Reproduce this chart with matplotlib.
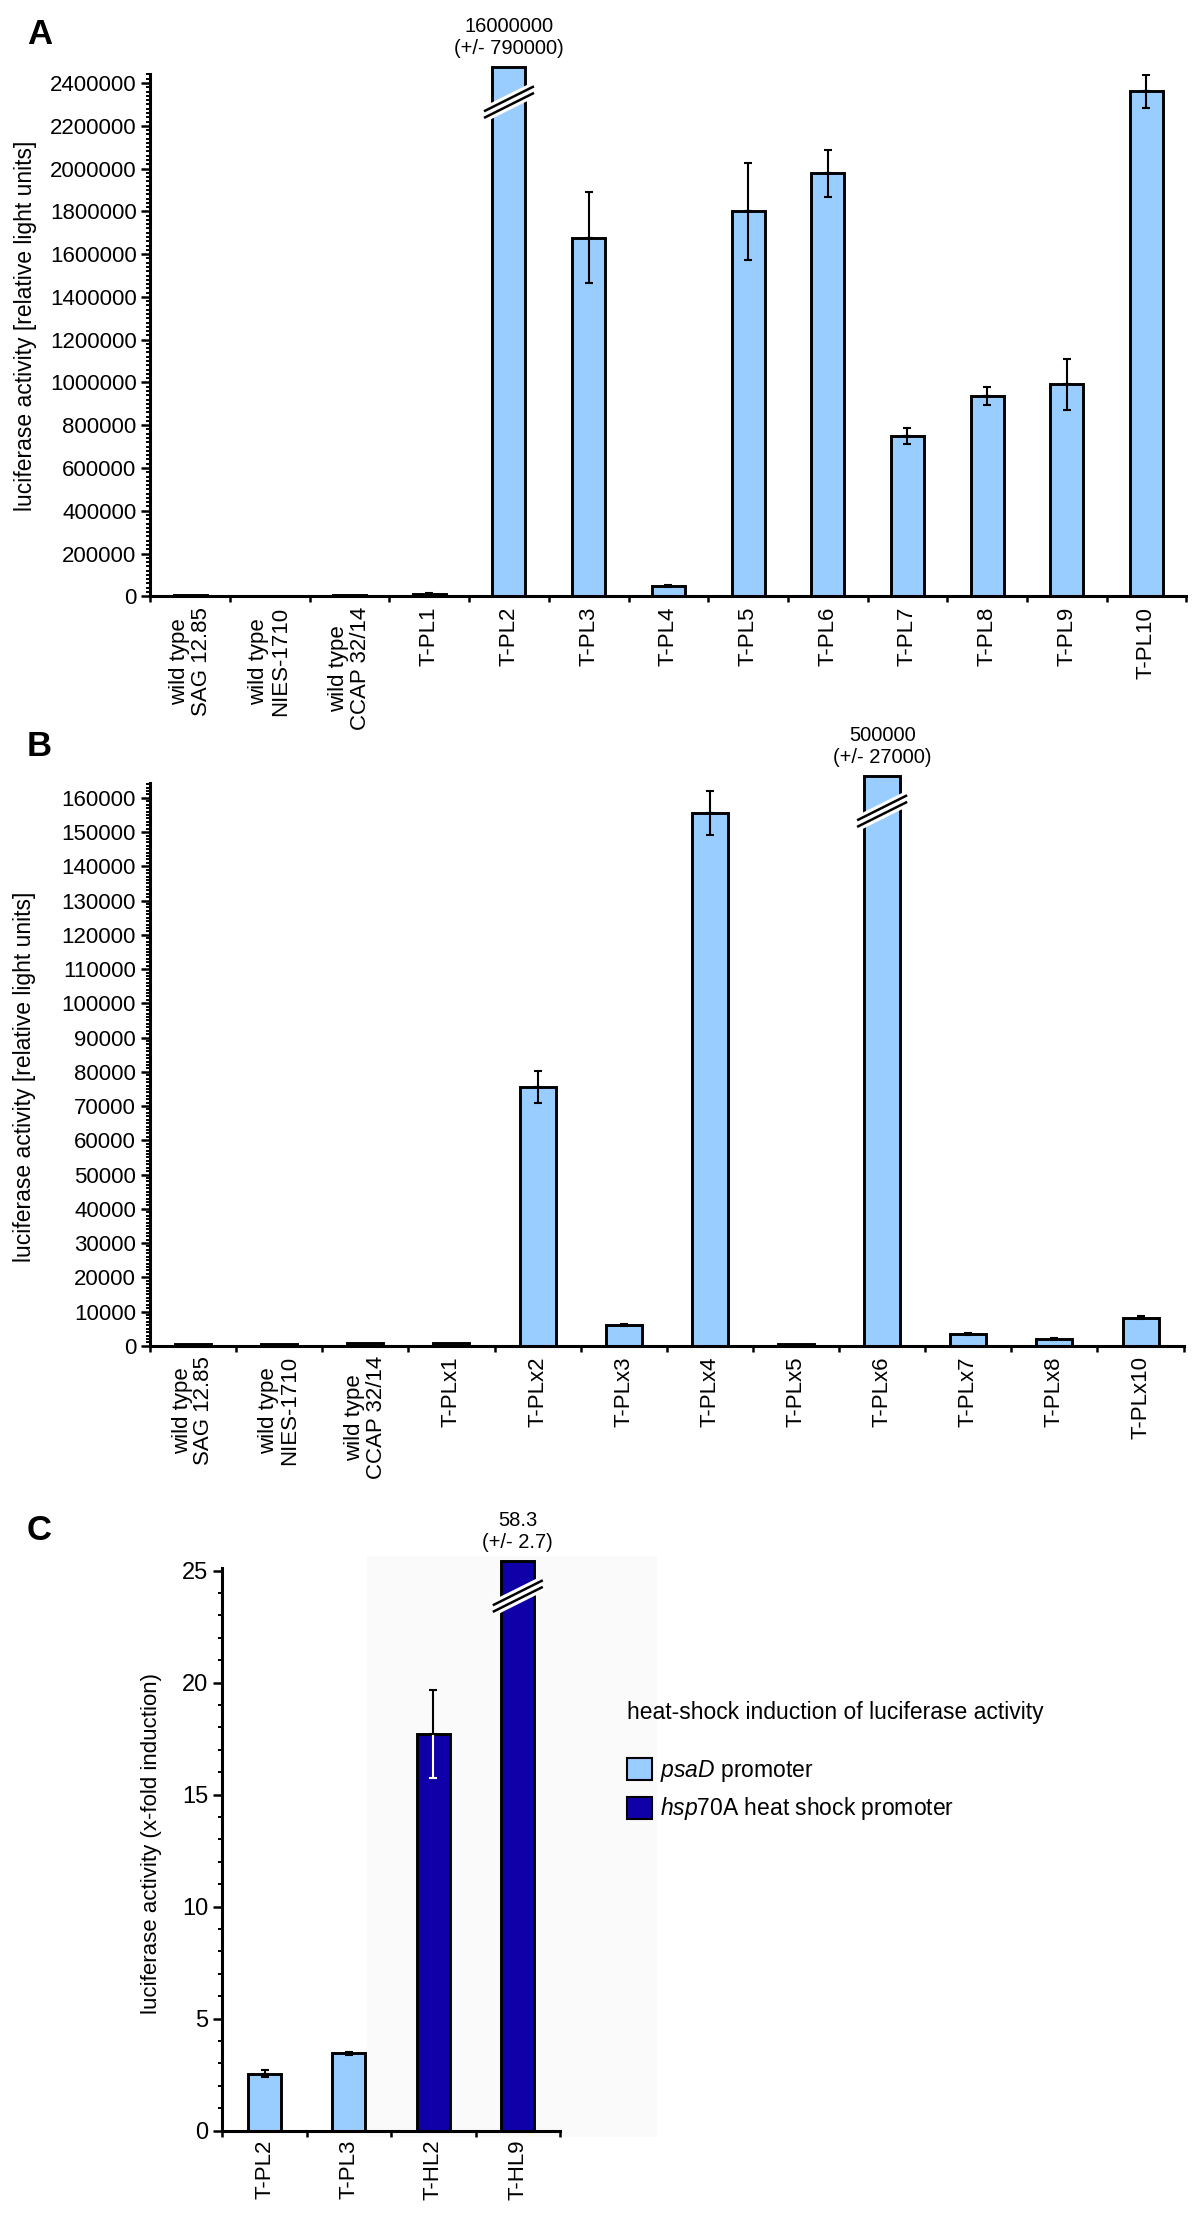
import numpy as np
import matplotlib
matplotlib.use("Agg")
import matplotlib.pyplot as plt
import matplotlib.transforms as mtransforms
from matplotlib.patches import Patch, Rectangle
from matplotlib.ticker import MultipleLocator, FixedLocator, StrMethodFormatter

plt.rcParams['font.family'] = ['Liberation Sans', 'DejaVu Sans']
plt.rcParams['mathtext.fontset'] = 'custom'
plt.rcParams['mathtext.rm'] = 'Liberation Sans'
plt.rcParams['mathtext.it'] = 'Liberation Sans:italic'

# --------- Data ---------

LIGHT = '#99ccff'
DARK = '#1000a8'

# panel A
labels_a = ["wild type\nSAG 12.85", "wild type\nNIES-1710", "wild type\nCCAP 32/14",
            "T-PL1", "T-PL2", "T-PL3", "T-PL4", "T-PL5", "T-PL6", "T-PL7",
            "T-PL8", "T-PL9", "T-PL10"]
values_a = [4000, 3500, 4000, 12000, 16000000, 1677000, 50000, 1801000,
            1977000, 751000, 936000, 991000, 2361000]
errors_a = [0, 0, 0, 2000, 790000, 213000, 5000, 227000,
            109000, 38000, 41000, 118000, 77000]

# panel B
labels_b = ["wild type\nSAG 12.85", "wild type\nNIES-1710", "wild type\nCCAP 32/14",
            "T-PLx1", "T-PLx2", "T-PLx3", "T-PLx4", "T-PLx5", "T-PLx6",
            "T-PLx7", "T-PLx8", "T-PLx10"]
values_b = [400, 400, 900, 900, 75500, 6040, 155500, 600, 500000, 3360, 2010, 8180]
errors_b = [0, 0, 0, 0, 4700, 400, 6400, 0, 27000, 350, 250, 450]

# panel C
labels_c = ["T-PL2", "T-PL3", "T-HL2", "T-HL9"]
values_c = [2.55, 3.45, 17.7, 58.3]
errors_c = [0.16, 0.08, 1.97, 2.7]
colors_c = [LIGHT, LIGHT, DARK, DARK]

legend_title = "heat-shock induction of luciferase activity"
legend_labels = [r"$\mathit{psaD}$ promoter", r"$\mathit{hsp}$70A heat shock promoter"]

# --------- Figure ---------

W, H = 1200, 2215
fig = plt.figure(figsize=(W / 100, H / 100), dpi=100)


def px_rect(x0, y0, x1, y1):
    # pixel box (top-left origin) -> figure fraction rect
    return [x0 / W, 1 - y1 / H, (x1 - x0) / W, (y1 - y0) / H]


def draw_break(ax, xc, ytop):
    # "//" break mark, drawn in pixels below the top of a cut bar
    tr = mtransforms.Affine2D() + mtransforms.ScaledTranslation(xc, ytop, ax.transData)
    gx = np.array([-25, 25])
    gy = np.array([-12.5, 12.5]) - 35
    ax.plot(gx, gy, color='white', lw=10.5, solid_capstyle='butt',
            transform=tr, clip_on=False, zorder=5)
    for off in (-3.3, 3.3):
        ax.plot(gx, gy + off, color='black', lw=1.8, solid_capstyle='butt',
                transform=tr, clip_on=False, zorder=6)


def draw_panel(ax, labels, values, errors, colors, ytop, major, minor, fmt, width,
               ytick_size=16):
    n = len(labels)
    x = np.arange(n)
    values = np.asarray(values, float)
    errors = np.asarray(errors, float)
    cap = ytop * 1.013
    broken = values > ytop
    heights = np.where(broken, cap, values)

    ax.bar(x, heights, width=width, color=colors, edgecolor='black',
           linewidth=2.1, zorder=2, clip_on=False)

    # error bars: upper half black, lower half white on dark bars
    for i in np.where(~broken & (errors > 0))[0]:
        low_col = 'white' if colors[i] == DARK else 'black'
        ax.errorbar(x[i], values[i], yerr=[[errors[i]], [0]], fmt='none',
                    ecolor=low_col, elinewidth=1.5, capsize=3.2, capthick=1.5, zorder=3)
        ax.errorbar(x[i], values[i], yerr=[[0], [errors[i]]], fmt='none',
                    ecolor='black', elinewidth=1.5, capsize=3.2, capthick=1.5, zorder=3)

    for i in np.where(broken)[0]:
        draw_break(ax, x[i], cap)
        ax.annotate(fmt.format(values[i]) + "\n(+/- " + fmt.format(errors[i]) + ")",
                    xy=(x[i], cap), xytext=(0, 21.5), textcoords='offset points',
                    ha='center', va='center', fontsize=14.5, linespacing=1.2,
                    annotation_clip=False)

    ax.set_xlim(-0.5, n - 0.5)
    ax.set_ylim(0, ytop)
    ax.set_xticks(x)
    ax.set_xticklabels(labels, rotation=90, fontsize=16, linespacing=1.05,
                       multialignment='center')
    ax.xaxis.set_minor_locator(FixedLocator(np.arange(n + 1) - 0.5))
    ax.tick_params(axis='x', which='major', length=0, pad=7.5)
    ax.tick_params(axis='x', which='minor', length=4.5, width=1.8)

    ax.yaxis.set_major_locator(MultipleLocator(major))
    ax.yaxis.set_minor_locator(MultipleLocator(minor))
    ax.yaxis.set_major_formatter(StrMethodFormatter('{x:.0f}'))
    ax.tick_params(axis='y', which='major', length=6.5, width=1.8,
                   labelsize=ytick_size, pad=3.5)
    ax.tick_params(axis='y', which='minor', length=3.2, width=1.4)

    for s in ('top', 'right'):
        ax.spines[s].set_visible(False)
    for s in ('left', 'bottom'):
        ax.spines[s].set_linewidth(2.2)


# --------- Panel A ---------
ax_a = fig.add_axes(px_rect(150.4, 73.9, 1186.3, 596.3))
draw_panel(ax_a, labels_a, values_a, errors_a, [LIGHT] * len(values_a),
           2442700, 200000, 20000, '{:.0f}', 0.414)
ax_a.set_ylabel("luciferase activity [relative light units]", fontsize=16.5, va='center')
ax_a.yaxis.set_label_coords((25 - 150.4) / 1035.9, 0.517)

# --------- Panel B ---------
ax_b = fig.add_axes(px_rect(150, 783.4, 1183.6, 1345.8))
draw_panel(ax_b, labels_b, values_b, errors_b, [LIGHT] * len(values_b),
           164220, 10000, 1000, '{:.0f}', 0.418)
ax_b.set_ylabel("luciferase activity [relative light units]", fontsize=16.5, va='center')
ax_b.yaxis.set_label_coords((25 - 150) / 1033.6, 0.478)

# --------- Panel C ---------
fig.add_artist(Rectangle((367 / W, 1 - 2137 / H), 290 / W, 581 / H,
                         transform=fig.transFigure, facecolor='#fafafa',
                         edgecolor='none', zorder=-1))
ax_c = fig.add_axes(px_rect(222.3, 1568.4, 560, 2130.7))
ax_c.set_facecolor('none')
draw_panel(ax_c, labels_c, values_c, errors_c, colors_c,
           25.1, 5, 1, '{:.1f}', 0.39, ytick_size=17)
ax_c.tick_params(axis='x', which='major', pad=6.5)
ax_c.set_ylabel("luciferase activity (x-fold induction)", fontsize=16, va='center')
ax_c.yaxis.set_label_coords((152 - 222.3) / 337.7, 0.511)

handles = [Patch(facecolor=LIGHT, edgecolor='black', linewidth=1.5),
           Patch(facecolor=DARK, edgecolor='black', linewidth=1.5)]
ax_c.legend(handles, legend_labels, loc='upper left',
            bbox_to_anchor=(626.8 / W, 1 - 1758 / H), bbox_transform=fig.transFigure,
            frameon=False, fontsize=16.5, handlelength=1.08, handleheight=1.1,
            handletextpad=0.35, labelspacing=0.5, borderpad=0, borderaxespad=0)
fig.text(626.8 / W, 1 - 1713 / H, legend_title, ha='left', va='center', fontsize=16.5)

# panel letters
for letter, ypx in (("A", 34.6), ("B", 746.5), ("C", 1530.5)):
    fig.text(27 / W, 1 - ypx / H, letter, ha='left', va='center',
             fontsize=25, fontweight='bold')

fig.savefig("out.png", dpi=100)
